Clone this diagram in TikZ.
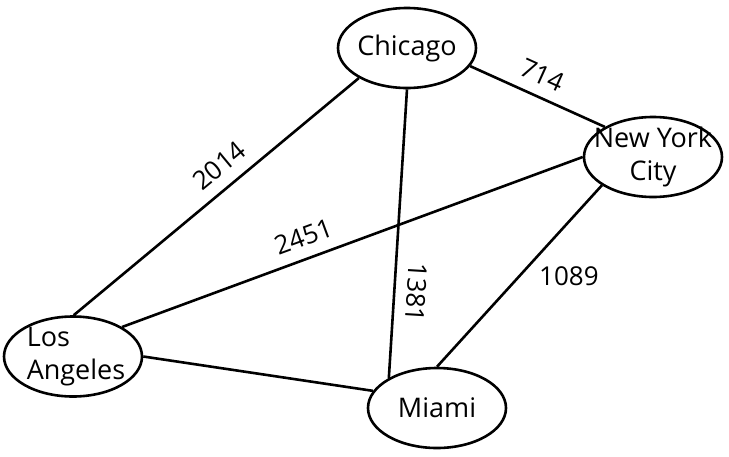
\documentclass[tikz,border=0pt]{standalone}
\usepackage{fontspec}
\setmainfont{Open Sans}
\usetikzlibrary{shapes.geometric}

\tikzset{
	city/.style={ellipse, draw, line width=2.6pt, minimum width=138pt, minimum height=80pt, inner sep=0pt},
	cityname/.style={font=\fontsize{27}{33}\selectfont, inner sep=0pt},
	road/.style={line width=2.6pt},
	dist/.style={font=\fontsize{26}{30}\selectfont, inner sep=11pt}
}

\begin{document}
\begin{tikzpicture}[x=1pt, y=-1pt]
	\useasboundingbox (0,0) rectangle (729,456);
	% cities
	\node[city] (chi) at (407,48) {};
	\node[city] (nyc) at (653,157) {};
	\node[city] (la) at (73,356.5) {};
	\node[city] (mia) at (437,408) {};
	\node[cityname] (chi-name) at (chi) {Chicago};
	\node[cityname, align=center] (nyc-name) at (nyc) {New York\\City};
	\node[cityname, align=left] (la-name) at ([xshift=3pt]la) {Los\\Angeles};
	\node[cityname] (mia-name) at (mia) {Miami};
	% roads
	\draw[road] (chi.-16) -- node[dist, sloped, above, pos=0.47] (d714) {714} (nyc.148);
	\draw[road] (chi.212) -- node[dist, sloped, above, pos=0.44] (d2014) {2014} (la.89);
	\draw[road] (chi.south) -- node[dist, sloped, allow upside down, above, pos=0.70] (d1381) {1381} (mia.148);
	\draw[road] (nyc.west) -- node[dist, sloped, above, pos=0.59] (d2451) {2451} (la.31);
	\draw[road] (nyc.209.5) -- node[dist, right=7.5pt, midway] (d1089) {1089} (mia.north);
	\draw[road] (la.east) -- (mia.165);
\end{tikzpicture}
\end{document}
